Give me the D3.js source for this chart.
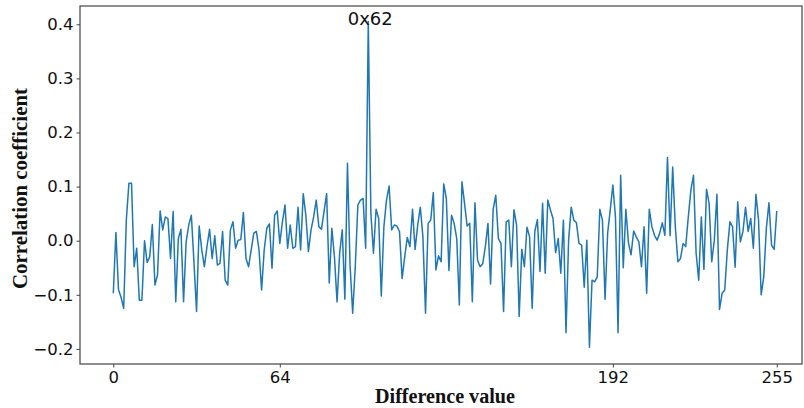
<!DOCTYPE html>
<html>
<head>
<meta charset="utf-8">
<script src="https://cdn.jsdelivr.net/npm/d3@7/dist/d3.min.js"></script>
<style>
  html, body { margin: 0; padding: 0; background: #fff; }
  svg { display: block; }
</style>
</head>
<body>
<svg id="chart" width="804" height="408"></svg>
<script>
const correlation = [
  -0.097, 0.015, -0.09, -0.105, -0.125, 0.038, 0.106, 0.106, -0.048, -0.014,
  -0.11, -0.11, 0.0, -0.04, -0.03, 0.03, -0.082, -0.063, 0.055, 0.02,
  0.044, 0.041, -0.033, 0.054, -0.113, 0.004, 0.021, -0.113, -0.002, 0.029,
  0.047, -0.04, -0.131, 0.027, -0.017, -0.048, -0.011, 0.021, -0.033, 0.009,
  -0.045, -0.042, 0.017, -0.073, -0.082, 0.02, 0.035, -0.014, 0.001, 0.002,
  0.052, -0.033, -0.048, -0.017, 0.014, 0.017, -0.017, -0.091, -0.017, 0.023,
  0.031, -0.051, 0.047, 0.055, -0.005, 0.035, 0.066, -0.014, 0.029, -0.014,
  -0.011, 0.062, -0.017, 0.087, 0.047, -0.02, 0.02, 0.044, 0.075, 0.026,
  0.021, 0.054, 0.087, -0.078, 0.023, -0.03, -0.113, -0.023, 0.02, -0.108,
  0.143, -0.045, -0.134, -0.048, 0.066, 0.075, 0.078, -0.014, 0.405, 0.05,
  -0.023, 0.058, 0.041, -0.102, 0.026, 0.075, 0.101, 0.02, 0.029, 0.027,
  0.017, -0.07, -0.03, 0.006, -0.011, 0.058, -0.016, 0.029, 0.062, 0.007,
  -0.134, 0.032, 0.038, 0.089, -0.054, -0.028, -0.039, 0.105, 0.078, -0.055,
  0.047, 0.032, 0.004, -0.119, 0.109, 0.069, 0.027, 0.032, -0.113, 0.07,
  -0.036, -0.048, -0.042, -0.011, 0.032, -0.08, 0.058, 0.084, 0.004, -0.005,
  -0.131, 0.035, 0.038, -0.048, 0.057, 0.029, -0.14, -0.016, -0.048, 0.025,
  0.007, -0.125, 0.017, 0.039, -0.057, 0.069, -0.06, 0.075, 0.057, 0.041,
  -0.022, 0.004, -0.06, 0.038, -0.17, 0.001, 0.062, 0.038, 0.033, -0.005,
  -0.008, -0.086, 0.001, -0.197, -0.073, -0.076, -0.067, 0.058, 0.038, -0.108,
  0.014, 0.057, 0.103, 0.044, -0.17, 0.121, -0.05, 0.058, -0.004, -0.026,
  0.018, 0.007, -0.002, -0.048, 0.026, -0.097, 0.058, 0.026, 0.01, 0.001,
  0.014, 0.033, 0.01, 0.154, 0.009, 0.136, 0.026, -0.039, -0.033, -0.005,
  -0.011, 0.044, 0.094, 0.121, -0.023, -0.073, 0.044, -0.053, 0.095, 0.069,
  -0.039, 0.001, 0.086, -0.127, -0.097, -0.091, -0.017, 0.035, 0.026, -0.049,
  0.072, -0.002, 0.017, 0.062, 0.017, 0.041, -0.014, 0.086, 0.038, -0.1,
  -0.067, 0.023, 0.07, -0.008, -0.016, 0.055
];
const differenceValues = correlation.map((_, i) => i);
const xTicks = [0, 64, 192, 255];
const yTicks = [-0.2, -0.1, 0.0, 0.1, 0.2, 0.3, 0.4];
const peakIndex = 0x62;
const peakLabel = "0x62";
const xLabel = "Difference value";
const yLabel = "Correlation coefficient";

(function () {
const svg = d3.select("#chart");
const mLeft = 80, mRight = 802, mTop = 6, mBottom = 364;

const x = d3.scaleLinear().domain([-12.8, 264.7]).range([mLeft, mRight]);
const y = d3.scaleLinear().domain([-0.2279, 0.4338]).range([mBottom, mTop]);

const tickFont = "DejaVu Sans, sans-serif";
const axisColor = "#444";

// line
svg.append("path")
  .datum(correlation)
  .attr("fill", "none")
  .attr("stroke", "#1f77b4")
  .attr("stroke-width", 1.5)
  .attr("stroke-linejoin", "round")
  .attr("d", d3.line().x((d, i) => x(differenceValues[i])).y(d => y(d)));

// frame
svg.append("rect")
  .attr("x", mLeft).attr("y", mTop)
  .attr("width", mRight - mLeft).attr("height", mBottom - mTop)
  .attr("fill", "none").attr("stroke", axisColor).attr("stroke-width", 1.2);

// axes
const fmt = v => (v < 0 ? "\u2212" : "") + Math.abs(v).toFixed(1);
const xAxis = svg.append("g")
  .attr("transform", `translate(0,${mBottom})`)
  .call(d3.axisBottom(x).tickValues(xTicks).tickSize(3.5).tickPadding(4).tickFormat(d3.format("d")));
const yAxis = svg.append("g")
  .attr("transform", `translate(${mLeft},0)`)
  .call(d3.axisLeft(y).tickValues(yTicks).tickSize(3.5).tickPadding(3).tickFormat(fmt));

[xAxis, yAxis].forEach(g => {
  g.select(".domain").remove();
  g.selectAll(".tick line").attr("stroke", axisColor);
  g.selectAll(".tick text")
    .attr("fill", "#111")
    .style("font-family", tickFont)
    .style("font-size", "16.5px");
});

// peak annotation
svg.append("text")
  .attr("x", x(peakIndex) + 2)
  .attr("y", y(correlation[peakIndex]) + 3)
  .attr("text-anchor", "middle")
  .style("font-family", tickFont)
  .style("font-size", "18px")
  .attr("fill", "#111")
  .text(peakLabel);

// axis labels
svg.append("text")
  .attr("x", 445)
  .attr("y", 403)
  .attr("text-anchor", "middle")
  .attr("textLength", 140)
  .attr("lengthAdjust", "spacingAndGlyphs")
  .style("font-family", "Liberation Serif, Times New Roman, serif")
  .style("font-weight", "bold")
  .style("font-size", "20.5px")
  .attr("fill", "#111")
  .text(xLabel);

svg.append("text")
  .attr("transform", "translate(27,188.5) rotate(-90)")
  .attr("text-anchor", "middle")
  .attr("textLength", 201)
  .attr("lengthAdjust", "spacingAndGlyphs")
  .style("font-family", "Liberation Serif, Times New Roman, serif")
  .style("font-weight", "bold")
  .style("font-size", "20.5px")
  .attr("fill", "#111")
  .text(yLabel);
})();
</script>
</body>
</html>
